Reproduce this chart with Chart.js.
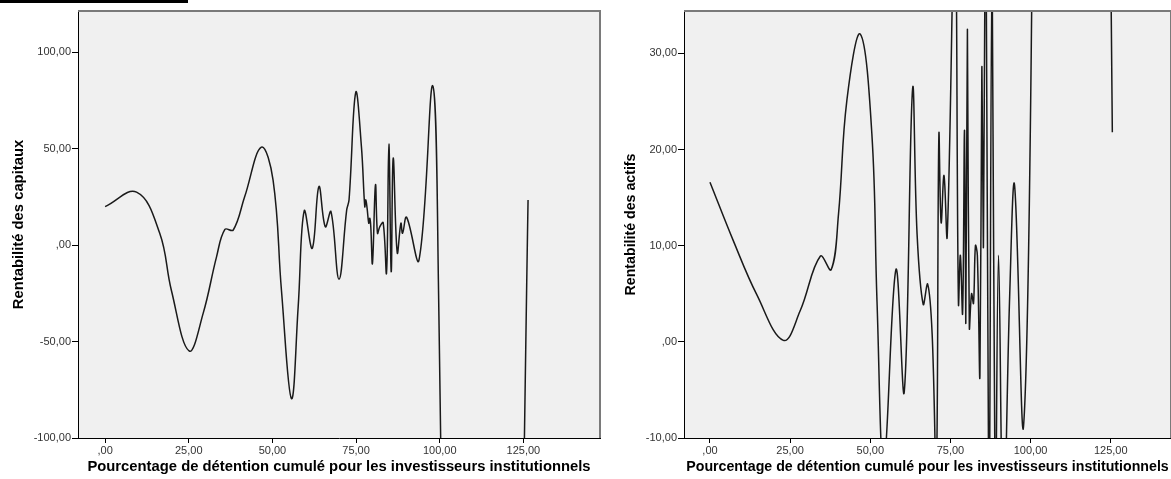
<!DOCTYPE html>
<html>
<head>
<meta charset="utf-8">
<script src="https://cdn.jsdelivr.net/npm/chart.js@4/dist/chart.umd.min.js"></script>
<style>
  html, body { margin: 0; padding: 0; background: #fff; }
  #wrap { position: relative; width: 1171px; height: 479px; overflow: hidden; }
  #bar { position: absolute; left: 0; top: 0; width: 188px; height: 3px; background: #000; }
  #c1 { position: absolute; left: 0; top: 0; }
  #c2 { position: absolute; left: 601px; top: 0; }
</style>
</head>
<body>
<div id="wrap">
  <canvas id="c1" width="601" height="479"></canvas>
  <canvas id="c2" width="570" height="479"></canvas>
  <div id="bar"></div>
</div>
<script>
// --- data ---
const xTitle = 'Pourcentage de détention cumulé pour les investisseurs institutionnels';
const xTickValues = [0, 25, 50, 75, 100, 125];

// left: Rentabilité des capitaux
const capitauxX = [0, 9.4, 16.3, 19.8, 25.1, 29.3, 33.3, 35.8, 38.3, 41.7, 46.7, 50.2, 52.7, 55.7, 57.7, 59.5,
  61.9, 63.9, 65.8, 67.5, 69.9, 72.2, 72.9, 74.9, 76.6, 77.6, 77.9, 78.3, 78.8, 79.1, 79.4, 79.9, 80.8, 81.4,
  82.1, 83.1, 84.1, 84.8, 85.5, 86.1, 87.3, 88.4, 88.9, 90.1, 93.8, 97.9, 99.6, 112, 126.4];
const capitauxY = [19.9, 27.4, 6.2, -23.4, -54.9, -35.4, -6.1, 8.1, 7.8, 25, 50.7, 33.7, -23.4, -79.6, -32, 17.7,
  -1.7, 30.3, 9.5, 17.3, -17.7, 18.2, 23.4, 79.1, 51, 19.9, 23.4, 19, 11.3, 13.9, 9.5, -9.5, 31.2, 6.1,
  9.5, 11.6, -14.4, 52.3, -13.8, 45, -4, 11.3, 6.1, 14.4, -7.8, 82.6, -18.2, -1500, 23.4];
const capitauxTicks = [-100, -50, 0, 50, 100];

// right: Rentabilité des actifs
const actifsX = [0, 7.3, 14.6, 22.9, 28.1, 34.4, 37.8, 40.1, 42.7, 46.9, 50.5, 52.1, 54.2, 58.0, 60.6, 63.2,
  64.6, 66.5, 67.9, 69.3, 70.6, 71.4, 72.1, 73.0, 74.0, 76.4, 77.5, 78.1, 78.8, 79.4, 79.8, 80.3, 80.9,
  81.6, 82.2, 82.8, 83.4, 84.2, 84.8, 85.3, 86.0, 87.0, 88.0, 89.0, 90.0, 91.5, 93.5, 95.0, 97.8, 100.5, 112, 125.5];
const actifsY = [16.6, 10.5, 4.9, 0.15, 3.2, 8.9, 7.5, 13.3, 25.1, 32.0, 21.6, 4.2, -13, 7.5, -5.2, 26.3,
  11.2, 3.9, 6.0, 0.8, -14, 21.5, 12.4, 17.3, 11.0, 45, 4, 9, 3, 22, 2, 32.5, 1.5,
  5, 4, 10, 9, -3.5, 28.5, 10, 50, -20, 40, -20, 9, -20, 5, 16.3, -8.8, 40, 500, 21.8];
const actifsTicks = [-10, 0, 10, 20, 30];

const FONT = "'Liberation Sans', Arial, sans-serif";

const fmt = v => (v === 0 ? '' : String(v)) + ',00';

const plotFrame = {
  id: 'plotFrame',
  beforeDraw(chart) {
    const a = chart.chartArea, ctx = chart.ctx;
    ctx.save();
    ctx.fillStyle = '#f0f0f0';
    ctx.fillRect(a.left, a.top, a.right - a.left, a.bottom - a.top);
    ctx.restore();
  },
  afterDraw(chart) {
    const a = chart.chartArea, ctx = chart.ctx;
    ctx.save();
    ctx.strokeStyle = '#7a7a7a';
    ctx.lineWidth = 2;
    ctx.beginPath();
    ctx.moveTo(a.left, a.top);
    ctx.lineTo(a.right, a.top);
    ctx.lineTo(a.right, a.bottom);
    ctx.stroke();
    ctx.restore();
  }
};

function makeChart(id, xs, ys, yTicks, yMin, yMax, xMax, yTitle, yWidth, yTitlePad, rightPad, titleSize) {
  return new Chart(document.getElementById(id), {
    type: 'line',
    data: {
      datasets: [{
        data: xs.map((x, i) => ({ x: x, y: ys[i] })),
        borderColor: '#1a1a1a',
        borderWidth: 1.5,
        pointRadius: 0,
        tension: 0.4,
        fill: false
      }]
    },
    options: {
      responsive: false,
      animation: false,
      elements: { line: { capBezierPoints: false } },
      layout: { padding: { top: 11, right: rightPad, left: 0, bottom: 0 } },
      plugins: { legend: { display: false }, tooltip: { enabled: false } },
      scales: {
        x: {
          type: 'linear',
          min: -8.1,
          max: xMax,
          afterBuildTicks: s => { s.ticks = xTickValues.map(v => ({ value: v })); },
          afterFit: s => { s.height = 41; },
          grid: { drawOnChartArea: false, drawTicks: true, tickLength: 5, tickColor: '#000' },
          border: { color: '#000', width: 1 },
          ticks: { font: { family: FONT, size: 11 }, color: '#333', padding: 1, maxRotation: 0, autoSkip: false, callback: fmt },
          title: { display: true, text: xTitle, color: '#000', font: { family: FONT, size: titleSize, weight: 'bold' }, padding: { top: 0, bottom: 3 } }
        },
        y: {
          type: 'linear',
          min: yMin,
          max: yMax,
          afterBuildTicks: s => { s.ticks = yTicks.map(v => ({ value: v })); },
          afterFit: s => { s.width = yWidth; },
          grid: { drawOnChartArea: false, drawTicks: true, tickLength: 6, tickColor: '#000' },
          border: { color: '#000', width: 1 },
          ticks: { font: { family: FONT, size: 11 }, color: '#333', padding: 1, callback: fmt },
          title: { display: true, text: yTitle, color: '#000', font: { family: FONT, size: titleSize, weight: 'bold' }, padding: { top: yTitlePad, bottom: 0 } }
        }
      }
    },
    plugins: [plotFrame]
  });
}

makeChart('c1', capitauxX, capitauxY, capitauxTicks, -100, 121.3, 147.9, 'Rentabilité des capitaux', 78, 10, 1, 14.8);
makeChart('c2', actifsX, actifsY, actifsTicks, -10, 34.4, 143.8, 'Rentabilité des actifs', 83, 22, 0, 14.2);
</script>
</body>
</html>
